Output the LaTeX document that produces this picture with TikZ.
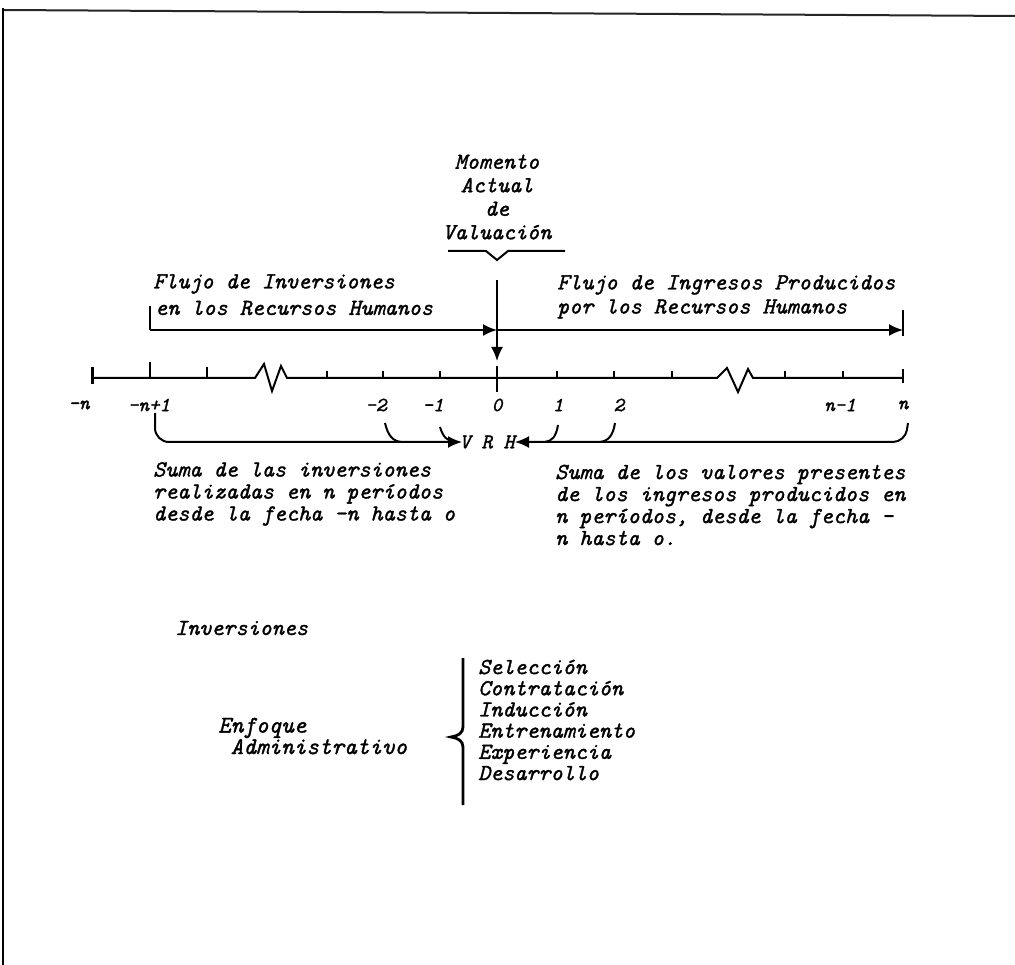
\documentclass[tikz,border=0pt]{standalone}
\usepackage{fontspec}
\usetikzlibrary{arrows.meta}
\newfontfamily\hw{Latin Modern Mono}[FakeBold=1.3]
\newcommand\tf[2]{\fontsize{#1}{#2}\selectfont\hw\itshape}
\begin{document}
\begin{tikzpicture}[x=1pt,y=-1pt,
  txt/.style={inner sep=0pt, font={\tf{23}{22}}},
  num/.style={inner sep=0pt, font={\tf{20}{20}}},
  ln/.style={line width=2pt},
  tick/.style={line width=2pt},
  tip/.style={-{Latex[length=14pt,width=12pt]}}]
\useasboundingbox (0,0) rectangle (1015,965);
% frame
\draw[line width=2pt, black!85] (3,10) -- (1015,16);
\draw[line width=1.4pt] (3,8) -- (3,965);
% title
\node[txt, align=center, font={\tf{23}{23.5}}] (title) at (497,197) {Momento\\Actual\\de\\Valuación};
\coordinate (ul1) at (448,251);
\coordinate (ul2) at (565,251);
\coordinate (ulv) at (497,260);
\draw[ln] (ul1) -- (486,251) -- (ulv) -- (508,251) -- (ul2);
% central arrow
\coordinate (vtop) at (497,280);
\coordinate (vtip) at (497,361);
\draw[ln,tip] (vtop) -- (vtip);
% upper flows
\coordinate (Ltop) at (150,306);
\coordinate (L0) at (150,330);
\coordinate (M0) at (497,330);
\coordinate (R0) at (903,330);
\coordinate (Rtop) at (903,310);
\coordinate (Rbot) at (903,336);
\draw[ln] (Ltop) -- (L0);
\draw[ln,tip] (L0) -- (M0);
\draw[ln,tip] (M0) -- (R0);
\draw[ln] (Rtop) -- (Rbot);
\node[txt,anchor=west] (fi1) at (153,284) {Flujo de Inversiones};
\node[txt,anchor=west] (fi2) at (155,308) {en los Recursos Humanos};
\node[txt,anchor=west] (fg1) at (557,285) {Flujo de Ingresos Producidos};
\node[txt,anchor=west] (fg2) at (557,309) {por los Recursos Humanos};
% axis
\coordinate (ax0) at (92,378);
\coordinate (axE) at (903,378);
\draw[ln] (ax0) -- (255,378) -- (264,364) -- (272,391) -- (281,366) -- (287,378)
  -- (717,378) -- (727,368) -- (738,392) -- (748,369) -- (753,378) -- (axE);
\draw[line width=3pt] (92,367) -- (92,384);
\draw[tick] (150,362) -- (150,378);
\draw[tick] (207,367) -- (207,378);
\foreach \x in {327,383,440,557,614,672,785,843} \draw[tick] (\x,371) -- (\x,378);
\draw[tick] (497,366) -- (497,392);
\draw[tick] (903,369) -- (903,383);
% labels
\node[num] (lmn) at (79,405) {-n};
\node[num] (lmn1) at (149,405) {-n+1};
\node[num] (lm2) at (376,405) {-2};
\node[num] (lm1) at (433,405) {-1};
\node[num] (l0) at (497,405) {0};
\node[num] (l1) at (558,405) {1};
\node[num] (l2) at (619,405) {2};
\node[num] (ln1) at (840,405) {n-1};
\node[num] (lnn) at (903,405) {n};
% VRH
\node[inner sep=0pt, font={\tf{21}{20}}] (vrh) at (487,442) {V R H};
\coordinate (bl0) at (155,413);
\coordinate (blT) at (462,442);
\draw[ln,tip,rounded corners=14pt] (bl0) -- (155,442) -- (blT);
\draw[ln] (385,423) .. controls (388,436) and (393,441) .. (401,442);
\draw[ln] (440,427) .. controls (443,437) and (447,441) .. (455,442);
\coordinate (br0) at (908,423);
\coordinate (brT) at (515,442);
\draw[ln,tip,rounded corners=12pt] (br0) -- (905,442) -- (brT);
\draw[ln] (558,425) .. controls (556,437) and (552,441) .. (545,442);
\draw[ln] (615,423) .. controls (613,436) and (608,441) .. (600,442);
% lower texts
\node[txt,anchor=west,align=left] (sumL) at (153,494) {Suma de las inversiones\\realizadas en n períodos\\desde la fecha -n hasta o};
\node[txt,anchor=west,align=left] (sumR) at (555,505) {Suma de los valores presentes\\de los ingresos producidos en\\n períodos, desde la fecha -\\n hasta o.};
% inversiones
\node[txt,anchor=west] (inv) at (175,628) {Inversiones};
\node[inner sep=0pt, font={\tf{24}{20}}, anchor=west, align=left] (enf) at (218,736) {Enfoque\\\ Administrativo};
\draw[line width=2.8pt] (463,658) -- (463,727) .. controls (463,733) and (458,736) .. (451,737)
  .. controls (458,738) and (463,741) .. (463,747) -- (463,805);
\coordinate (brc) at (451,737);
\node[txt,anchor=west,align=left, font={\tf{23}{21.2}}] (items) at (478,720) {Selección\\Contratación\\Inducción\\Entrenamiento\\Experiencia\\Desarrollo};
\end{tikzpicture}
\end{document}
